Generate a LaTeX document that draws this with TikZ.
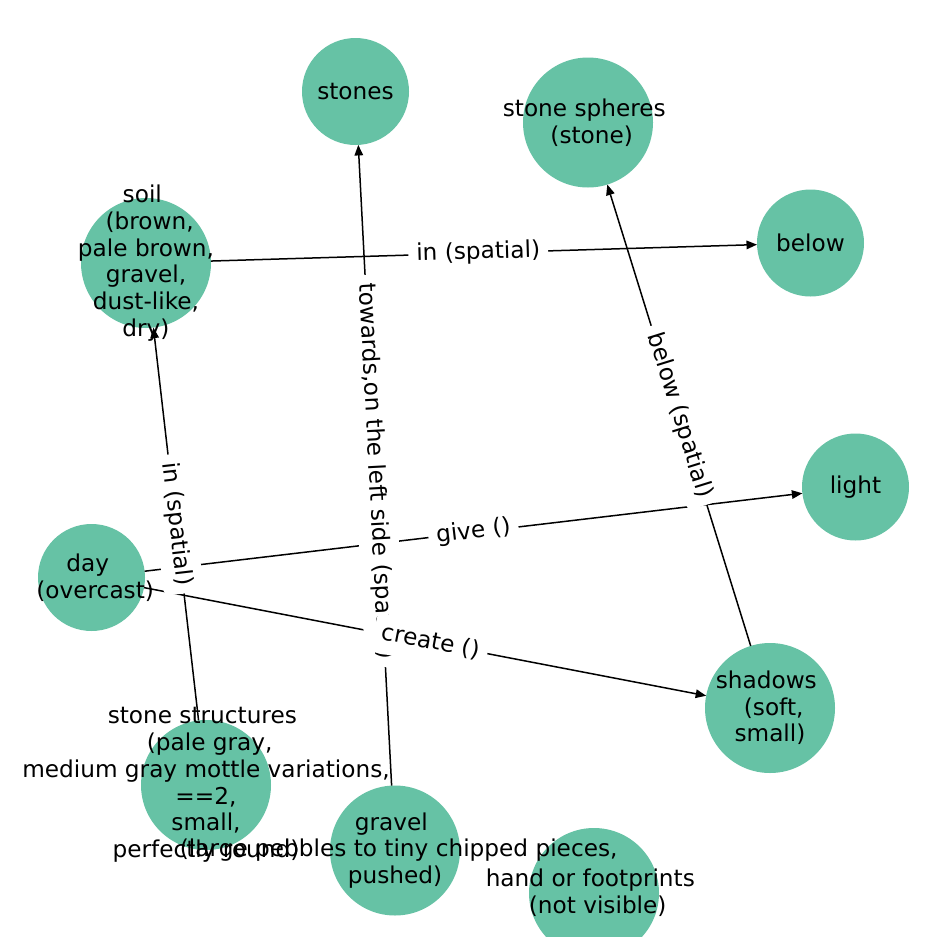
\documentclass[tikz,border=0pt]{standalone}
\usepackage{fontspec}
\setmainfont{DejaVu Sans}
\usetikzlibrary{arrows.meta}
\definecolor{nodegreen}{HTML}{66C2A5}
\newcommand{\lsp}{\kern0.318em}
\begin{document}
\begin{tikzpicture}[x=1pt,y=-1pt,
  bigc/.style={circle,fill=nodegreen,draw=none,minimum size=130pt,inner sep=0pt,outer sep=0pt},
  smallc/.style={circle,fill=nodegreen,draw=none,minimum size=107pt,inner sep=0pt,outer sep=0pt},
  txt/.style={align=center,inner sep=0pt,font=\fontsize{23.2pt}{26.7pt}\selectfont},
  edge/.style={line width=1.5pt,-{Triangle[length=10.5pt,width=8.5pt]}},
  elbl/.style={fill=white,rounded corners=6pt,sloped,inner xsep=8pt,inner ysep=9pt,
    text height=17pt,text depth=5pt,font=\fontsize{23.2pt}{26.7pt}\selectfont}]
\useasboundingbox (0,0) rectangle (948,948);
\fill[white] (0,0) rectangle (948,948);
\begin{scope}
\clip (0,0) rectangle (948,936);
\node[smallc] (stones) at (355.5,91.5) {};
\node[bigc] (spheres) at (588,122.5) {};
\node[smallc] (below) at (810.5,243) {};
\node[bigc] (soil) at (146,263) {};
\node[smallc] (light) at (855.5,487) {};
\node[smallc] (day) at (91.5,577.5) {};
\node[bigc] (shadows) at (770,708) {};
\node[bigc] (structures) at (206,785) {};
\node[bigc] (gravel) at (395,850.5) {};
\node[bigc] (hand) at (594,893) {};
\end{scope}
% edges
\draw[edge] (soil) -- (below);
\draw[edge] (structures) -- (soil);
\draw[edge] (gravel) -- (stones);
\draw[edge] (shadows) -- (spheres);
\draw[edge] (day) -- (light);
\draw[edge] (day) -- (shadows);
% node labels
\node[txt] (stonesT) at (stones) {stones};
\node[txt] (spheresT) at (spheres) {stone spheres\lsp\\\lsp(stone)};
\node[txt] (belowT) at (below) {below};
\node[txt] (soilT) at (soil) {soil\lsp\\\lsp(brown,\\pale brown,\\gravel,\\dust-like,\\dry)};
\node[txt] (lightT) at (light) {light};
\node[txt] (dayT) at (day) {day\lsp\\\lsp(overcast)};
\node[txt] (shadowsT) at (shadows) {shadows\lsp\\\lsp(soft,\\small)};
\node[txt] (structuresT) at (structures) {stone structures\lsp\\\lsp(pale gray,\\medium gray mottle variations,\\==2,\\small,\\perfectly round)};
\node[txt] (gravelT) at (gravel) {gravel\lsp\\\lsp(large pebbles to tiny chipped pieces,\\pushed)};
\node[txt] (handT) at (hand) {hand or footprints\lsp\\\lsp(not visible)};
% edge labels
\path (soil.center) -- (below.center) node[elbl,midway] (l1) {in (spatial)};
\path (structures.center) -- (soil.center) node[elbl,midway] (l2) {in (spatial)};
\path (gravel.center) -- (stones.center) node[elbl,midway] (l3) {towards,on the left side (spatial)};
\path (shadows.center) -- (spheres.center) node[elbl,midway] (l4) {below (spatial)};
\path (day.center) -- (light.center) node[elbl,midway] (l5) {give ()};
\path (day.center) -- (shadows.center) node[elbl,midway] (l6) {create ()};
\end{tikzpicture}
\end{document}
